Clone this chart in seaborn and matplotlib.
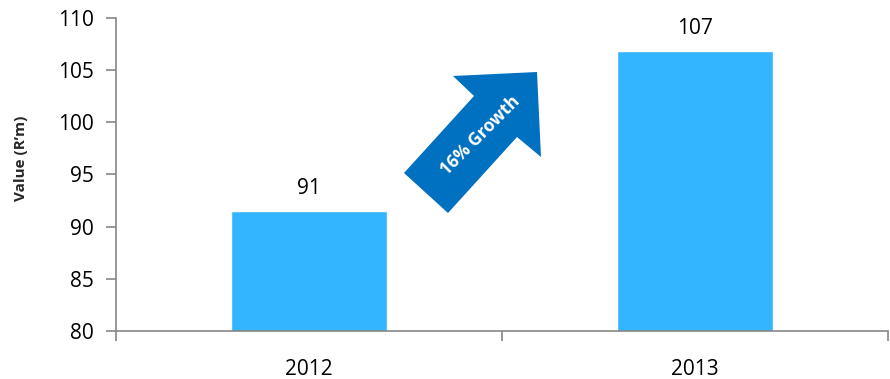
import matplotlib
matplotlib.use("Agg")
import matplotlib.pyplot as plt
from matplotlib.patches import Polygon
import seaborn as sns
import pandas as pd

years = ["2012", "2013"]
values = [91.5, 106.8]
labels = ["91", "107"]
growth_text = "16% Growth"

sns.set_theme(style="white")
plt.rcParams["font.family"] = ["Open Sans", "DejaVu Sans"]

df = pd.DataFrame({"year": years, "value": values})

fig = plt.figure(figsize=(8.9, 3.79), dpi=100)
ax = fig.add_axes([116/890, 1-331/379, (888-116)/890, (331-18)/379])

sns.barplot(data=df, x="year", y="value", color="#33B5FF", saturation=1,
            width=0.405, ax=ax)

ax.set_ylim(80, 110)
ax.set_xlim(-0.5, 1.5)
ax.set_yticks(range(80, 111, 5))
ax.set_xlabel("")
ax.set_ylabel("Value (R\u2019m)", fontsize=11, fontweight="bold")
ax.yaxis.set_label_coords(-0.114, 0.553)

for sp in ["top", "right"]:
    ax.spines[sp].set_visible(False)
for sp in ["left", "bottom"]:
    ax.spines[sp].set_color("#868686")
    ax.spines[sp].set_linewidth(1.2)

ax.tick_params(axis="y", which="major", left=True, length=7, width=1.2,
               color="#868686", labelsize=15, pad=9, labelcolor="black")
ax.tick_params(axis="x", which="major", bottom=False, length=0, labelsize=15,
               pad=20, labelcolor="black")
ax.set_xticks([-0.5, 0.5, 1.5], minor=True)
ax.tick_params(axis="x", which="minor", bottom=True, length=7, width=1.2,
               color="#868686")

for i, (v, lab) in enumerate(zip(values, labels)):
    ax.annotate(lab, (i, v), xytext=(0, 9), textcoords="offset points",
                ha="center", va="bottom", fontsize=15, color="black")

# growth arrow (decoration) in figure pixel coords
pts_px = [(404, 173), (474, 96), (453, 76), (537, 72), (541, 157),
          (517, 137), (448, 213)]
pts = [(x/890, 1 - y/379) for x, y in pts_px]
fig.patches.append(Polygon(pts, closed=True, transform=fig.transFigure,
                           facecolor="#0070C0", edgecolor="none", zorder=5))
fig.text(480/890, 1 - 136/379, growth_text, rotation=45, ha="center",
         va="center", color="white", fontsize=12.5, fontweight="bold", zorder=6)

fig.savefig("out.png", dpi=100)
